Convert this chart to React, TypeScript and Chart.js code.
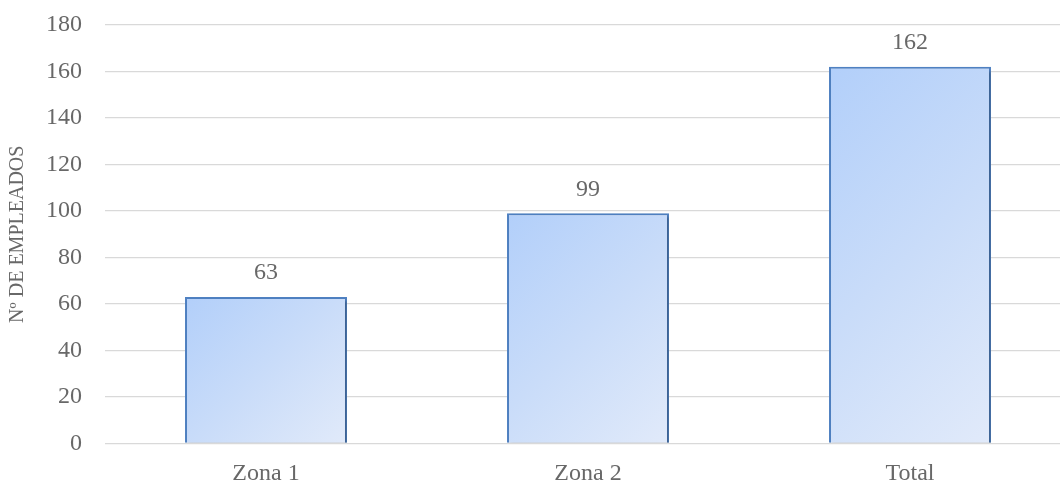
import React, { useEffect, useRef } from "react";
import { Chart, registerables } from "chart.js";

Chart.register(...registerables);

const categories = ["Zona 1", "Zona 2", "Total"];
const employees = [63, 99, 162];
const yTitle = "Nº DE EMPLEADOS";
const yMin = 0;
const yMax = 180;
const yStep = 20;

const FONT = "'Liberation Serif', 'Times New Roman', serif";
const TEXT = "#686868";
const CAT_PCT = 0.503;

const labelPlugin = {
  id: "valueLabels",
  beforeDatasetDraw(chart: any) {
    const ctx = chart.ctx;
    ctx.save();
    ctx.shadowColor = "rgba(0,0,0,0.28)";
    ctx.shadowBlur = 3;
    ctx.shadowOffsetX = 2;
    ctx.shadowOffsetY = 2;
  },
  afterDatasetDraw(chart: any) {
    chart.ctx.restore();
  },
  afterDatasetsDraw(chart: any) {
    const ctx = chart.ctx;
    const meta = chart.getDatasetMeta(0);
    const data = chart.data.datasets[0].data;
    ctx.save();
    ctx.font = `24px ${FONT}`;
    ctx.fillStyle = TEXT;
    ctx.textAlign = "center";
    ctx.textBaseline = "middle";
    meta.data.forEach((el: any, i: number) => {
      ctx.fillText(String(data[i]), el.x, el.y - 24);
    });
    ctx.restore();
  },
};

export default function App() {
  const ref = useRef<HTMLCanvasElement | null>(null);
  useEffect(() => {
    if (!ref.current) return;
    const chart = new Chart(ref.current, {
      type: "bar",
      data: {
        labels: categories,
        datasets: [
          {
            data: employees,
            backgroundColor: (c: any) => {
              const ch = c.chart;
              const xs = ch.scales?.x;
              const ys = ch.scales?.y;
              if (!xs || !ys || !ch.chartArea || c.dataIndex === undefined) return "#c9dcf8";
              const cx = xs.getPixelForValue(c.dataIndex);
              const w = (ch.chartArea.width / categories.length) * CAT_PCT;
              const top = ys.getPixelForValue(employees[c.dataIndex]);
              const bot = ys.getPixelForValue(0);
              const h = bot - top;
              const x0 = cx - w / 2;
              const d = (w + h) / 2;
              const g = ch.ctx.createLinearGradient(x0, top, x0 + d, top + d);
              g.addColorStop(0, "#b2cffa");
              g.addColorStop(0.5, "#c9dcf9");
              g.addColorStop(1, "#e1eafa");
              return g;
            },
            borderColor: "#4f81c2",
            borderWidth: 2,
            barPercentage: 1,
            categoryPercentage: CAT_PCT,
          },
        ],
      },
      options: {
        animation: false,
        responsive: false,
        devicePixelRatio: 1,
        layout: { padding: { top: 25, right: 9, bottom: 0, left: 0 } },
        plugins: { legend: { display: false }, tooltip: { enabled: false } },
        scales: {
          x: {
            grid: { display: false, drawTicks: false },
            border: { display: false },
            ticks: { color: TEXT, font: { family: FONT, size: 24 }, padding: 16 },
            afterFit: (s: any) => {
              s.height = 39.5;
            },
          },
          y: {
            min: yMin,
            max: yMax,
            ticks: { stepSize: yStep, color: TEXT, font: { family: FONT, size: 24 }, padding: 23 },
            grid: { color: "#d9d9d9", lineWidth: 1.3, drawTicks: false },
            border: { display: false },
            title: {
              display: true,
              text: yTitle,
              color: TEXT,
              font: { family: FONT, size: 20 },
              padding: { top: 6, bottom: 0 },
            },
            afterFit: (s: any) => {
              s.width = 105;
              s.paddingTop = 0;
              s.paddingBottom = 0;
            },
          },
        },
      },
      plugins: [labelPlugin],
    });
    return () => chart.destroy();
  }, []);

  return (
    <div
      style={{
        position: "fixed",
        left: 0,
        top: 0,
        width: 1060,
        height: 483,
        overflow: "hidden",
        background: "#fff",
      }}
    >
      <canvas ref={ref} width={1080} height={483} />
    </div>
  );
}
